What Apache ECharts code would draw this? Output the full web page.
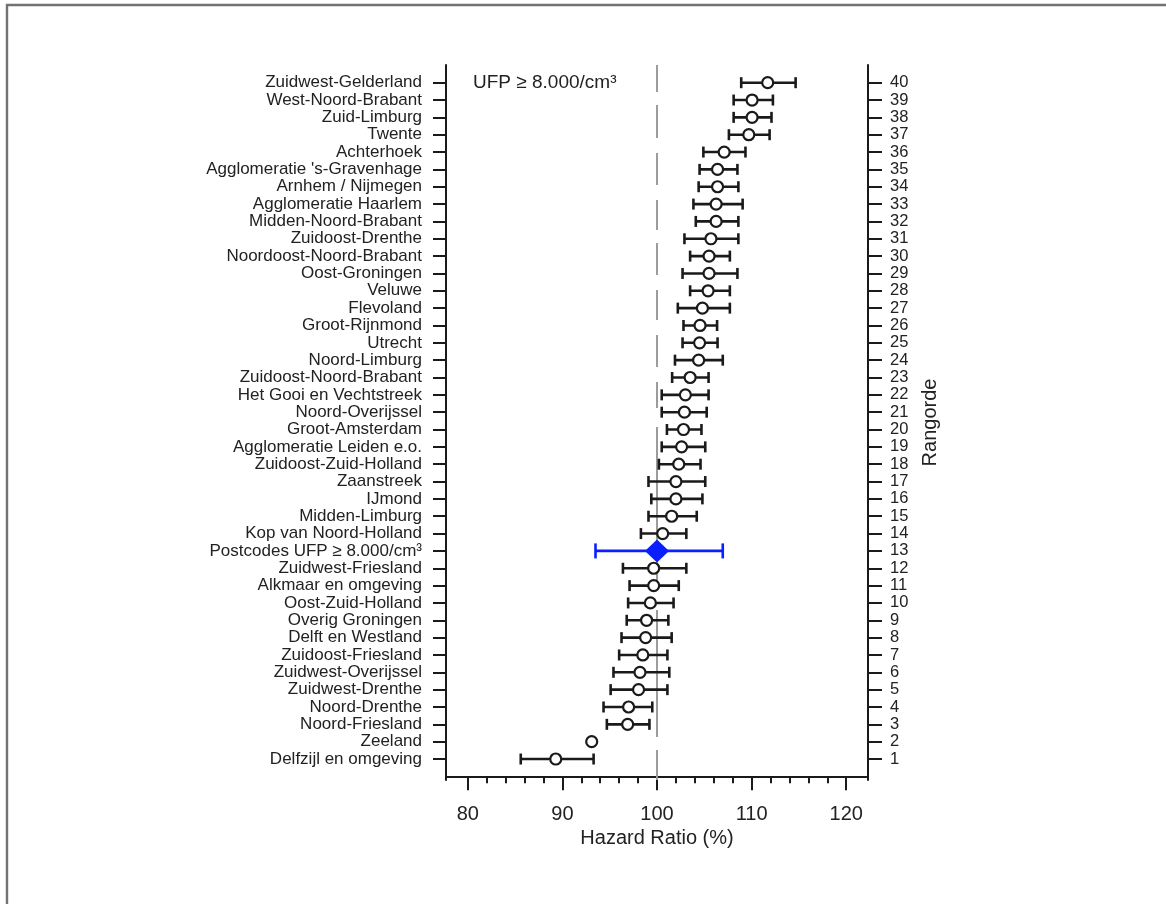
<!DOCTYPE html>
<html>
<head>
<meta charset="utf-8">
<script src="https://cdn.jsdelivr.net/npm/echarts@6/dist/echarts.min.js"></script>
<style>
  html, body { margin: 0; padding: 0; background: #ffffff; }
  #chart { width: 1166px; height: 904px; }
</style>
</head>
<body>
<div id="chart"></div>
<script>
// Regions ordered by rank (1 = lowest hazard ratio, 40 = highest)
const regions = [
  'Delfzijl en omgeving', 'Zeeland', 'Noord-Friesland', 'Noord-Drenthe',
  'Zuidwest-Drenthe', 'Zuidwest-Overijssel', 'Zuidoost-Friesland', 'Delft en Westland',
  'Overig Groningen', 'Oost-Zuid-Holland', 'Alkmaar en omgeving', 'Zuidwest-Friesland',
  'Postcodes UFP \u2265 8.000/cm\u00b3', 'Kop van Noord-Holland', 'Midden-Limburg', 'IJmond',
  'Zaanstreek', 'Zuidoost-Zuid-Holland', 'Agglomeratie Leiden e.o.', 'Groot-Amsterdam',
  'Noord-Overijssel', 'Het Gooi en Vechtstreek', 'Zuidoost-Noord-Brabant', 'Noord-Limburg',
  'Utrecht', 'Groot-Rijnmond', 'Flevoland', 'Veluwe',
  'Oost-Groningen', 'Noordoost-Noord-Brabant', 'Zuidoost-Drenthe', 'Midden-Noord-Brabant',
  'Agglomeratie Haarlem', 'Arnhem / Nijmegen', "Agglomeratie 's-Gravenhage", 'Achterhoek',
  'Twente', 'Zuid-Limburg', 'West-Noord-Brabant', 'Zuidwest-Gelderland'
];

const ranks = [
  1, 2, 3, 4, 5, 6, 7, 8, 9, 10, 11, 12, 13, 14, 15, 16, 17, 18, 19, 20,
  21, 22, 23, 24, 25, 26, 27, 28, 29, 30, 31, 32, 33, 34, 35, 36, 37, 38, 39, 40
];

// Hazard ratio (%) with 95% confidence interval, per rank
const hazardRatio = [
  89.3, 93.1, 96.9, 97.0, 98.05, 98.2, 98.5, 98.8, 98.9, 99.3,
  99.65, 99.65, 100.0, 100.6, 101.55, 102.0, 102.0, 102.3, 102.6, 102.8,
  102.9, 103.0, 103.5, 104.4, 104.5, 104.55, 104.8, 105.4, 105.5, 105.5,
  105.7, 106.25, 106.25, 106.4, 106.4, 107.1, 109.7, 110.05, 110.05, 111.7
];
const ciLow = [
  85.6, null, 94.7, 94.35, 95.1, 95.4, 96.0, 96.25, 96.8, 96.95,
  97.1, 96.4, 93.5, 98.3, 99.1, 99.4, 99.1, 100.2, 100.5, 101.05,
  100.5, 100.5, 101.6, 101.9, 102.7, 102.8, 102.2, 103.5, 102.7, 103.5,
  102.9, 104.1, 103.85, 104.4, 104.5, 104.9, 107.6, 108.1, 108.1, 108.9
];
const ciHigh = [
  93.3, null, 99.2, 99.5, 101.1, 101.3, 101.1, 101.55, 101.2, 101.75,
  102.3, 103.1, 106.95, 103.1, 104.2, 104.8, 105.1, 104.6, 105.1, 104.7,
  105.25, 105.45, 105.45, 106.95, 106.4, 106.35, 107.7, 107.7, 108.5, 107.7,
  108.6, 108.6, 109.05, 108.6, 108.5, 109.35, 111.9, 112.1, 112.25, 114.65
];

const xMajorTicks = [80, 90, 100, 110, 120];
const xMinorTicks = [82, 84, 86, 88, 92, 94, 96, 98, 102, 104, 106, 108, 112, 114, 116, 118];
const referenceValue = 100;
const pooledRank = 13;
const panelLabel = 'UFP \u2265 8.000/cm\u00b3';

// ---- plot setup ----
const FONT = "'Liberation Sans', Arial, Helvetica, sans-serif";
const TEXT = '#222222';
const INK = '#1a1a1a';
const BLUE = '#0a1eff';
const X_MIN = 77.7, X_MAX = 122.3;
const Y_MIN = -0.21, Y_MAX = 41.02;

const regionBars = [], regionPoints = [], pooledBars = [], pooledPoints = [];
ranks.forEach(function (r, i) {
  const bar = [r, ciLow[i], ciHigh[i]];
  const pt = [hazardRatio[i], r];
  if (r === pooledRank) {
    pooledBars.push(bar); pooledPoints.push(pt);
  } else {
    if (ciLow[i] != null && ciHigh[i] != null) regionBars.push(bar);
    regionPoints.push(pt);
  }
});

function errorBar(color, width, capHalf) {
  return function (params, api) {
    const y = api.value(0);
    const lo = api.coord([api.value(1), y]);
    const hi = api.coord([api.value(2), y]);
    const style = { stroke: color, lineWidth: width, fill: null };
    return {
      type: 'group',
      children: [
        { type: 'line', shape: { x1: lo[0], y1: lo[1], x2: hi[0], y2: hi[1] }, style: style },
        { type: 'line', shape: { x1: lo[0], y1: lo[1] - capHalf, x2: lo[0], y2: lo[1] + capHalf }, style: style },
        { type: 'line', shape: { x1: hi[0], y1: hi[1] - capHalf, x2: hi[0], y2: hi[1] + capHalf }, style: style }
      ]
    };
  };
}

const axisLine = { show: true, lineStyle: { color: INK, width: 2 } };

const chart = echarts.init(document.getElementById('chart'), null, { renderer: 'canvas' });
chart.setOption({
  animation: false,
  backgroundColor: '#ffffff',
  textStyle: { fontFamily: FONT },
  graphic: [
    {
      type: 'rect', silent: true,
      shape: { x: 7, y: 5, width: 1400, height: 1200 },
      style: { fill: null, stroke: '#727272', lineWidth: 2.4 }
    },
    {
      type: 'text', silent: true, left: 473, top: 73,
      style: { text: panelLabel, font: '19px ' + FONT, fill: TEXT }
    }
  ],
  grid: { left: 446, top: 65, width: 422, height: 715, containLabel: false },
  xAxis: [
    {
      type: 'value', position: 'bottom', min: X_MIN, max: X_MAX,
      axisLine: axisLine,
      axisTick: { show: true, customValues: xMajorTicks, length: 14, lineStyle: { color: INK, width: 2 } },
      axisLabel: { customValues: xMajorTicks, fontSize: 20, color: TEXT, margin: 24, fontFamily: FONT },
      splitLine: { show: false },
      name: 'Hazard Ratio (%)', nameLocation: 'middle', nameGap: 46,
      nameTextStyle: { fontSize: 20, color: TEXT, fontFamily: FONT }
    },
    {
      type: 'value', position: 'bottom', min: X_MIN, max: X_MAX,
      axisLine: { show: false },
      axisTick: { show: true, customValues: xMinorTicks, length: 7, lineStyle: { color: INK, width: 2 } },
      axisLabel: { show: false },
      splitLine: { show: false }
    }
  ],
  yAxis: [
    {
      type: 'value', position: 'left', min: Y_MIN, max: Y_MAX,
      axisLine: axisLine,
      axisTick: { show: true, customValues: ranks, length: 13, lineStyle: { color: INK, width: 2 } },
      axisLabel: {
        customValues: ranks, fontSize: 17, color: TEXT, margin: 24, fontFamily: FONT,
        formatter: function (v) { return regions[ranks.indexOf(Math.round(v))]; }
      },
      splitLine: { show: false }
    },
    {
      type: 'value', position: 'right', min: Y_MIN, max: Y_MAX,
      axisLine: axisLine,
      axisTick: { show: true, customValues: ranks, length: 14, lineStyle: { color: INK, width: 2 } },
      axisLabel: {
        customValues: ranks, fontSize: 16.5, color: TEXT, margin: 22, fontFamily: FONT,
        formatter: function (v) { return String(Math.round(v)); }
      },
      splitLine: { show: false },
      name: 'Rangorde', nameLocation: 'middle', nameRotate: 90, nameGap: 52,
      nameTextStyle: { fontSize: 20, color: TEXT, fontFamily: FONT }
    }
  ],
  series: [
    {
      // long-dash reference line at HR = 100%
      type: 'line', xAxisIndex: 0, yAxisIndex: 0, z: 1,
      data: [[referenceValue, Y_MAX], [referenceValue, Y_MIN]],
      showSymbol: false, silent: true,
      lineStyle: {
        color: '#9c9c9c', width: 2,
        type: [27, 13, 33, 15, 32, 15, 30, 13, 32, 15, 30, 15, 32, 15, 26, 19, 158, 25, 127, 13, 30]
      }
    },
    {
      type: 'custom', xAxisIndex: 0, yAxisIndex: 0, z: 3,
      renderItem: errorBar(INK, 2.6, 5.5),
      encode: { x: [1, 2], y: 0 },
      data: regionBars
    },
    {
      type: 'scatter', xAxisIndex: 0, yAxisIndex: 0, z: 4,
      symbol: 'circle', symbolSize: 11,
      itemStyle: { color: '#ffffff', borderColor: INK, borderWidth: 2.2, opacity: 1 },
      data: regionPoints
    },
    {
      type: 'custom', xAxisIndex: 0, yAxisIndex: 0, z: 3,
      renderItem: errorBar(BLUE, 2.6, 7.5),
      encode: { x: [1, 2], y: 0 },
      data: pooledBars
    },
    {
      type: 'scatter', xAxisIndex: 0, yAxisIndex: 0, z: 5,
      symbol: 'diamond', symbolSize: [24, 23],
      itemStyle: { color: BLUE, opacity: 1 },
      data: pooledPoints
    }
  ]
});
</script>
</body>
</html>
